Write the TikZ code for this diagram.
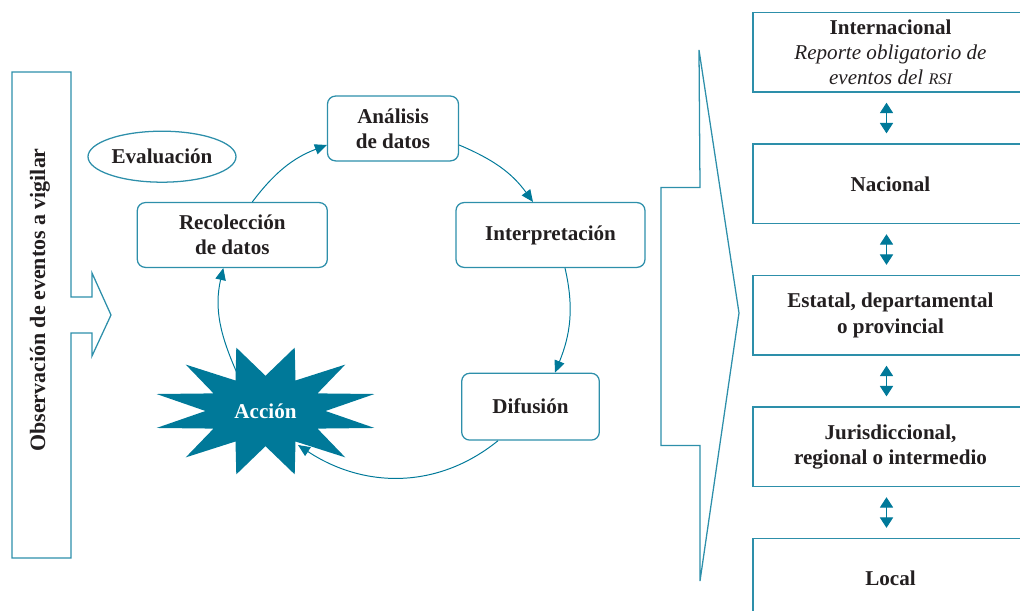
\documentclass[tikz,border=0pt]{standalone}
\usepackage{fontspec}
\setmainfont{Liberation Serif}
\usepackage{xcolor}
\usetikzlibrary{arrows.meta,shapes.geometric}
\definecolor{vig}{RGB}{0,121,153}
\definecolor{vigline}{RGB}{45,143,170}
\definecolor{ink}{RGB}{35,31,32}

\begin{document}
\begin{tikzpicture}[x=0.25mm,y=0.25mm,line width=0.9pt,
  every node/.style={font=\fontsize{15pt}{18pt}\selectfont\bfseries,text=ink,align=center,inner sep=0pt},
  paso/.style={draw=vigline,rounded corners=2mm,minimum width=#1,minimum height=16.2mm},
  nivel/.style={draw=vigline,minimum width=68.75mm,minimum height=19.9mm},
  flecha/.style={draw=vig,line width=0.7pt,-{Triangle[length=3mm,width=2.6mm]}},
  doble/.style={draw=vig,line width=0.7pt,{Triangle[length=2.6mm,width=3.3mm]}-{Triangle[length=2.6mm,width=3.3mm]},
    shorten <=2.5mm,shorten >=2.5mm}]
  \clip (0,0) rectangle (1020,611);
  % left box with its arrow
  \draw[vigline] (12,539) -- (71,539) -- (71,314) -- (92,314) -- (92,338) -- (111,296)
    -- (92,255) -- (92,278) -- (71,278) -- (71,53) -- (12,53) -- cycle;
  \node[rotate=90,font=\fontsize{15.6pt}{18pt}\selectfont\bfseries] (obs) at (40,311) {Observación de eventos a vigilar};
  % big arrow towards the levels
  \draw[vigline] (699,561) -- (700,423.5) -- (661,423.5) -- (661,165.6) -- (700,165.6)
    -- (700,30) -- (739,298) -- cycle;
  % cycle
  \node[paso=32.75mm] (anal)   at (393,482.5) {Análisis\\de datos};
  \node[paso=47.5mm]  (recol)  at (232.3,376) {Recolección\\de datos};
  \node[paso=47.25mm] (interp) at (550.5,376) {Interpretación};
  \node[paso=34.4mm,minimum height=16.7mm] (difu) at (530.5,204.3) {Difusión};
  \node[draw=vigline,ellipse,minimum width=37mm,minimum height=12.75mm] (eval) at (162,454.3) {Evaluación};
  \coordinate (acc) at (265.5,200);
  \fill[vig] (acc) +(0:15mm and 8.8mm)
    \foreach \k in {0,...,11}{ -- +({15+30*\k}:28.2mm and 16.4mm) -- +({30+30*\k}:15mm and 8.8mm)} -- cycle;
  \node[text=white] (accion) at (acc) {Acción};
  \draw[flecha] ([shift={(20,0)}]recol.north) to[out=53,in=201] ([shift={(0,-16.5)}]anal.west);
  \draw[flecha] ([shift={(0,-16.5)}]anal.east) to[out=-23,in=126] ([shift={(-17.5,0)}]interp.north);
  \draw[flecha] ([shift={(14.5,0)}]interp.south) to[out=-77,in=68] ([shift={(24.5,0)}]difu.north);
  \draw[flecha] ([shift={(-32.5,0)}]difu.south) to[out=219,in=-33.5] ([shift={(32.5,-34)}]accion.center);
  \draw[flecha] ([shift={(-28.5,38)}]accion.center) to[out=114,in=257] ([shift={(-9,0)}]recol.south);
  % levels
  \node[nivel] (intl) at (890.5,558.7) {Internacional\\ \mdseries\itshape Reporte obligatorio de\\
    \mdseries\itshape eventos del {\fontsize{11.5pt}{18pt}\selectfont RSI}};
  \node[nivel] (nac) at (890.5,427.2) {Nacional};
  \node[nivel] (est) at (890.5,295.7) {Estatal, departamental\\o provincial};
  \node[nivel] (jur) at (890.5,164.2) {Jurisdiccional,\\regional o intermedio};
  \node[nivel] (loc) at (890.5,32.7)  {Local};
  \draw[doble] ([xshift=-1mm]intl.south) -- ([xshift=-1mm]nac.north);
  \draw[doble] ([xshift=-1mm]nac.south) -- ([xshift=-1mm]est.north);
  \draw[doble] ([xshift=-1mm]est.south) -- ([xshift=-1mm]jur.north);
  \draw[doble] ([xshift=-1mm]jur.south) -- ([xshift=-1mm]loc.north);
\end{tikzpicture}
\end{document}
